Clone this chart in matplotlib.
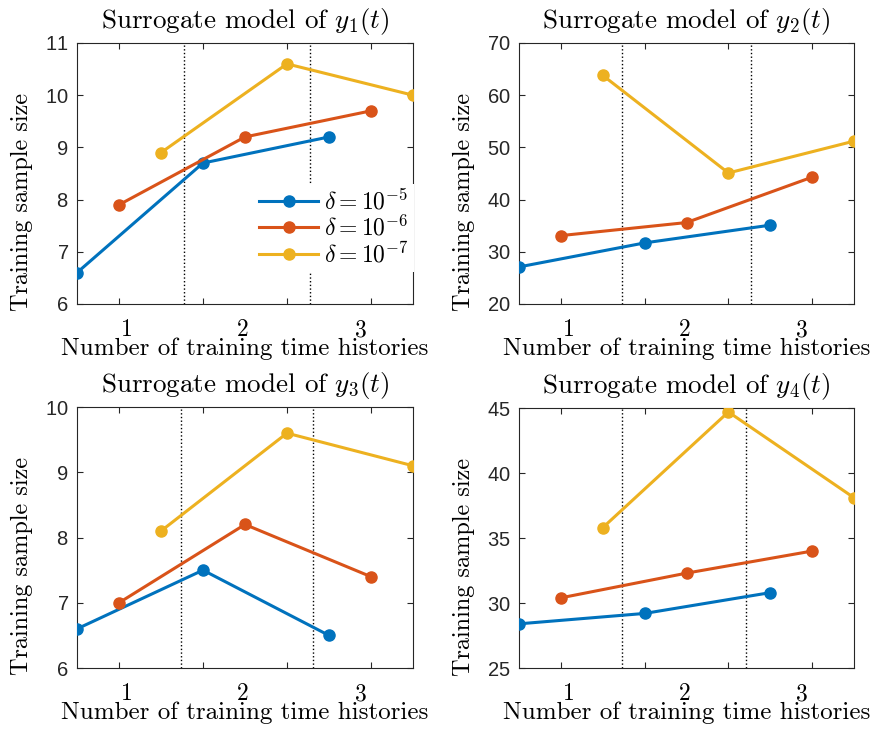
import matplotlib
matplotlib.use("Agg")
import matplotlib.pyplot as plt
import matplotlib.transforms as mtransforms

plt.rcParams['font.family'] = ['Liberation Sans', 'DejaVu Sans']
plt.rcParams['mathtext.fontset'] = 'cm'
plt.rcParams['axes.formatter.use_mathtext'] = True

# x positions: each delta is offset within the three groups
x_d5 = [1, 4, 7]
x_d6 = [2, 5, 8]
x_d7 = [3, 6, 9]

# training sample sizes, one list per output and delta
y1_d5 = [6.6, 8.7, 9.2]
y1_d6 = [7.9, 9.2, 9.7]
y1_d7 = [8.9, 10.6, 10.0]

y2_d5 = [27.1, 31.7, 35.1]
y2_d6 = [33.1, 35.6, 44.3]
y2_d7 = [63.8, 45.1, 51.2]

y3_d5 = [6.6, 7.5, 6.5]
y3_d6 = [7.0, 8.2, 7.4]
y3_d7 = [8.1, 9.6, 9.1]

y4_d5 = [28.4, 29.2, 30.8]
y4_d6 = [30.4, 32.3, 34.0]
y4_d7 = [35.8, 44.7, 38.1]

group_labels = ['1', '2', '3']
group_label_x = [2.2, 4.95, 7.75]
deltas = [r'$\delta = 10^{-5}$', r'$\delta = 10^{-6}$', r'$\delta = 10^{-7}$']
colors = ['#0072BD', '#D95319', '#EDB120']

panels = [
    dict(name='y_1', data=[y1_d5, y1_d6, y1_d7], ylim=(6, 11), yticks=[6, 7, 8, 9, 10, 11],
         sep=[3.55, 6.55], rect=[0.0869, 0.5836, 0.3792, 0.3575]),
    dict(name='y_2', data=[y2_d5, y2_d6, y2_d7], ylim=(20, 70), yticks=[20, 30, 40, 50, 60, 70],
         sep=[3.47, 6.53], rect=[0.5858, 0.5836, 0.3781, 0.3575]),
    dict(name='y_3', data=[y3_d5, y3_d6, y3_d7], ylim=(6, 10), yticks=[6, 7, 8, 9, 10],
         sep=[3.48, 6.62], rect=[0.0869, 0.0849, 0.3792, 0.3575]),
    dict(name='y_4', data=[y4_d5, y4_d6, y4_d7], ylim=(25, 45), yticks=[25, 30, 35, 40, 45],
         sep=[3.45, 6.42], rect=[0.5858, 0.0849, 0.3781, 0.3561]),
]

fig = plt.figure(figsize=(8.86, 7.3), dpi=100)
serif = 'cmr10'
dark = '#262626'

for i, p in enumerate(panels):
    ax = fig.add_axes(p['rect'])
    for xs, ys, c, lab in zip([x_d5, x_d6, x_d7], p['data'], colors, deltas):
        ax.plot(xs, ys, '-o', color=c, lw=2.2, ms=8, label=lab, zorder=3)
    for s in p['sep']:
        ax.axvline(s, color='black', ls=':', lw=1.0, zorder=2)

    ax.set_xlim(1, 9)
    ax.set_ylim(*p['ylim'])
    ax.set_xticks([2, 4, 6, 8])
    ax.set_xticklabels([])
    ax.set_yticks(p['yticks'])
    ax.tick_params(direction='in', length=4, width=0.8, colors=dark,
                   top=True, right=True, labelsize=14.5, pad=6)
    for sp in ax.spines.values():
        sp.set_color(dark)
        sp.set_linewidth(0.8)

    # group numbers under the axis
    trans = mtransforms.blended_transform_factory(ax.transData, ax.transAxes)
    for gx, gl in zip(group_label_x, group_labels):
        ax.text(gx, -0.058, gl, transform=trans, ha='center', va='top',
                fontsize=17, fontfamily=serif, color='black')

    ax.set_title('Surrogate model of $%s(t)$' % p['name'], fontfamily=serif,
                 fontsize=19.5, pad=10.5)
    ax.set_xlabel('Number of training time histories', fontfamily=serif, fontsize=18)
    ax.xaxis.set_label_coords(0.5, -0.128)
    ax.set_ylabel('Training sample size', fontfamily=serif, fontsize=17.5)
    ax.yaxis.set_label_coords(-0.13, 0.39)

    if i == 0:
        leg = ax.legend(loc='center', bbox_to_anchor=(0.765, 0.292), fontsize=17,
                        frameon=True, fancybox=False, handlelength=2.5,
                        handletextpad=0.25, borderpad=0.2, labelspacing=0.05,
                        borderaxespad=0)
        leg.get_frame().set_edgecolor('none')
        leg.get_frame().set_facecolor('white')
        leg.get_frame().set_alpha(1)
        leg.set_zorder(5)

fig.savefig('out.png', dpi=100)
